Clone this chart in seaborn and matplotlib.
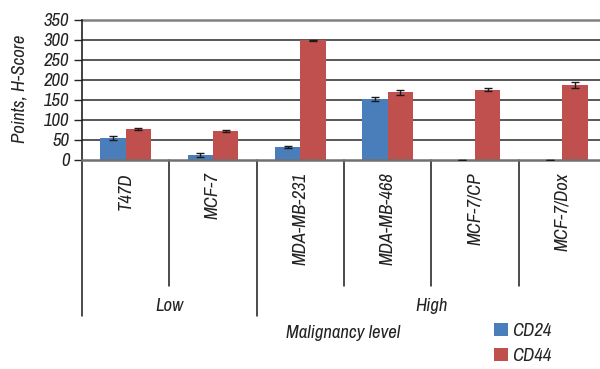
import matplotlib
matplotlib.use("Agg")
import matplotlib.pyplot as plt
import matplotlib.transforms as mtransforms
from matplotlib import font_manager
import numpy as np
import pandas as pd
import seaborn as sns

# Cell lines, grouped by malignancy level
cell_lines = ["T47D", "MCF-7", "MDA-MB-231", "MDA-MB-468", "MCF-7/CP", "MCF-7/Dox"]
groups = ["Low", "High"]
group_sizes = [2, 4]

# H-Score values and their errors
cd24 = [55, 12, 33, 152, 0, 0]
cd44 = [78, 72, 299, 169, 176, 188]
cd24_err = [4, 5, 3, 5, 0, 0]
cd44_err = [3, 3, 2, 6, 3, 7]

markers = ["CD24", "CD44"]
colors = ["#4a7ebb", "#c0504d"]

yticks = [0, 50, 100, 150, 200, 250, 300, 350]

df = pd.DataFrame({
    "line": cell_lines * 2,
    "marker": [markers[0]] * len(cell_lines) + [markers[1]] * len(cell_lines),
    "score": cd24 + cd44,
})
errs = {markers[0]: cd24_err, markers[1]: cd44_err}

sns.set_theme(style="white")


def pick_narrow_sans():
    """Find an installed narrow / condensed sans-serif italic face."""
    best, best_rank = None, 99
    for f in font_manager.fontManager.ttflist:
        n = f.name.lower()
        if "mono" in n or ("serif" in n and "sans" not in n):
            continue
        if f.style not in ("italic", "oblique"):
            continue
        if "narrow" in n:
            rank = 0
        elif f.stretch in ("condensed", "semi-condensed") or "condensed" in n:
            rank = 1
        else:
            continue
        if "bold" in str(f.weight).lower() or (isinstance(f.weight, int) and f.weight >= 600):
            continue
        if rank < best_rank:
            best, best_rank = f, rank
    return best


nf = pick_narrow_sans()
if nf is not None:
    plt.rcParams["font.family"] = [nf.name, "Liberation Sans", "DejaVu Sans"]
    plt.rcParams["font.stretch"] = nf.stretch
else:
    plt.rcParams["font.family"] = ["Liberation Sans", "DejaVu Sans"]
plt.rcParams["font.style"] = "italic"

FS = 13.5
TXT = "#222222"

fig = plt.figure(figsize=(6.0, 3.69), dpi=100)
ax = fig.add_axes([82 / 600, 1 - 160 / 369, 524 / 600, 140 / 369])

sns.barplot(data=df, x="line", y="score", hue="marker", order=cell_lines,
            hue_order=markers, palette=colors, width=0.577, errorbar=None,
            saturation=1, edgecolor="none", linewidth=0, ax=ax, legend=True)

# error bars at the centre of each bar
for cont, m in zip(ax.containers, markers):
    xs = [p.get_x() + p.get_width() / 2 for p in cont.patches]
    hs = [p.get_height() for p in cont.patches]
    ax.errorbar(xs, hs, yerr=errs[m], fmt="none", ecolor="#1a1a1a",
                elinewidth=1.0, capsize=3, capthick=1.0, zorder=5)

ax.set_ylim(0, 350)
ax.set_xlim(-0.5, 5.5)
ax.set_yticks(yticks)
ax.set_yticklabels([str(v) for v in yticks], fontsize=FS, color=TXT)
ax.tick_params(axis="y", which="major", left=True, length=6, width=1,
               color=TXT, pad=3)
ax.tick_params(axis="x", length=0, pad=9)
ax.set_xticks(range(len(cell_lines)))
ax.set_xticklabels(cell_lines, rotation=90, fontsize=FS, color=TXT,
                   va="top", ha="center")
ax.set_xlabel("")
ax.set_ylabel("")

# horizontal gridlines
for v in yticks[1:-1]:
    ax.axhline(v, color="#2a2a2a", lw=1.1, zorder=0)
ax.axhline(350, color="#808080", lw=1.8, zorder=0, clip_on=False)

for s in ["top", "right"]:
    ax.spines[s].set_visible(False)
ax.spines["left"].set_color(TXT)
ax.spines["left"].set_linewidth(1.2)
ax.spines["bottom"].set_color("#707070")
ax.spines["bottom"].set_linewidth(1.8)

# multi-level category axis below the plot
trans = mtransforms.blended_transform_factory(ax.transData, ax.transAxes)
bounds = np.cumsum([0] + group_sizes) - 0.5
inner_depth = -(286 - 160) / 140
outer_depth = -(316 - 160) / 140
for b in np.arange(-0.5, len(cell_lines) + 0.5, 1.0):
    depth = outer_depth if np.any(np.isclose(bounds, b)) else inner_depth
    ax.plot([b, b], [0, depth], color="#1a1a1a", lw=1.1, transform=trans,
            clip_on=False)
for g, lo, hi in zip(groups, bounds[:-1], bounds[1:]):
    ax.text((lo + hi) / 2, -(306 - 160) / 140, g, transform=trans,
            ha="center", va="center", fontsize=FS, color=TXT)

fig.text(20 / 600, 1 - 89 / 369, "Points, H-Score", rotation=90,
         ha="center", va="center", fontsize=FS, color=TXT)
fig.text(343 / 600, 1 - 333 / 369, "Malignancy level", ha="center",
         va="center", fontsize=FS, color=TXT)

handles, labels = ax.get_legend_handles_labels()
ax.legend(handles, labels, loc="upper left",
          bbox_to_anchor=(494 / 600, 1 - 323 / 369),
          bbox_transform=fig.transFigure, frameon=False, fontsize=13.5,
          handlelength=0.72, handleheight=0.72, handletextpad=0.25,
          labelspacing=0.45, borderpad=0, borderaxespad=0)

fig.savefig("out.png", dpi=100)
